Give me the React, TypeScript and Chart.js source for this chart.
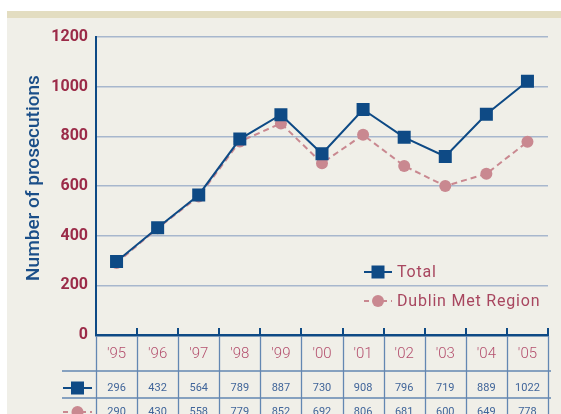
import React, { useEffect, useRef } from "react";
import { Chart, registerables } from "chart.js";

Chart.register(...registerables);

const years = ["'95", "'96", "'97", "'98", "'99", "'00", "'01", "'02", "'03", "'04", "'05"];
const totalValues = [296, 432, 564, 789, 887, 730, 908, 796, 719, 889, 1022];
const dublinValues = [290, 430, 558, 779, 852, 692, 806, 681, 600, 649, 778];
const seriesLabels = ["Total", "Dublin Met Region"];
const yTitle = "Number of prosecutions";
const yMin = 0;
const yMax = 1200;
const yStep = 200;

const BLUE = "#0e4a85";
const PINK = "#c98890";
const MAROON = "#9b2b48";
const LABEL_PINK = "#a8465f";
const GRID = "#a7b7cd";
const TABLE_LINE = "#6387b2";
const TABLE_TEXT = "#40659a";
const FONT = "Roboto, 'DejaVu Sans', sans-serif";

function drawSquare(ctx: CanvasRenderingContext2D, x: number, y: number, s: number) {
  ctx.fillStyle = BLUE;
  ctx.fillRect(x - s / 2, y - s / 2, s, s);
}
function drawCircle(ctx: CanvasRenderingContext2D, x: number, y: number, r: number) {
  ctx.fillStyle = PINK;
  ctx.beginPath();
  ctx.arc(x, y, r, 0, Math.PI * 2);
  ctx.fill();
}
function seriesIcon(ctx: CanvasRenderingContext2D, idx: number, x0: number, x1: number, y: number) {
  ctx.save();
  ctx.lineWidth = 2;
  if (idx === 0) {
    ctx.strokeStyle = BLUE;
    ctx.setLineDash([]);
  } else {
    ctx.strokeStyle = PINK;
    ctx.setLineDash([5, 4]);
  }
  ctx.beginPath();
  ctx.moveTo(x0, y);
  ctx.lineTo(x1, y);
  ctx.stroke();
  ctx.setLineDash([]);
  const cx = (x0 + x1) / 2;
  if (idx === 0) drawSquare(ctx, cx, y, 13);
  else drawCircle(ctx, cx, y, 6);
  ctx.restore();
}

const decorPlugin = {
  id: "decor",
  beforeDraw(chart: any) {
    const ctx: CanvasRenderingContext2D = chart.ctx;
    const w = chart.width;
    const h = chart.height;
    ctx.save();
    ctx.fillStyle = "#ffffff";
    ctx.fillRect(0, 0, w, h);
    ctx.fillStyle = "#f0efe8";
    ctx.fillRect(7, 11, w - 7, h - 11);
    ctx.fillStyle = "#e3ddc1";
    ctx.fillRect(7, 11, w - 7, 7);
    ctx.restore();
  },
  afterDraw(chart: any) {
    const ctx: CanvasRenderingContext2D = chart.ctx;
    const xs = chart.scales.x;
    const area = chart.chartArea;
    const n = years.length;
    const colW = (area.right - area.left) / n;
    const axisY = area.bottom;
    ctx.save();

    // tick marks pointing up at column boundaries
    ctx.strokeStyle = BLUE;
    ctx.lineWidth = 2;
    for (let k = 1; k <= n; k++) {
      const bx = Math.round(area.left + k * colW);
      ctx.beginPath();
      ctx.moveTo(bx, axisY);
      ctx.lineTo(bx, axisY - 7);
      ctx.stroke();
    }

    // table lines
    ctx.strokeStyle = TABLE_LINE;
    ctx.lineWidth = 1.3;
    for (let k = 0; k <= n; k++) {
      const bx = Math.round(area.left + k * colW) + 0.5;
      ctx.beginPath();
      ctx.moveTo(bx, axisY + 1);
      ctx.lineTo(bx, chart.height);
      ctx.stroke();
    }
    const rowLines = [371, 398];
    rowLines.forEach((ry) => {
      ctx.beginPath();
      ctx.moveTo(62, ry);
      ctx.lineTo(551, ry);
      ctx.stroke();
    });

    // table values
    const rows = [totalValues, dublinValues];
    const rowY = [388, 412];
    ctx.font = `11px ${FONT}`;
    ctx.fillStyle = TABLE_TEXT;
    ctx.textAlign = "center";
    ctx.textBaseline = "middle";
    rows.forEach((vals, r) => {
      vals.forEach((v, i) => {
        ctx.fillText(String(v), xs.getPixelForValue(i), rowY[r]);
      });
    });
    // row icons
    seriesIcon(ctx, 0, 63, 92, rowY[0]);
    seriesIcon(ctx, 1, 63, 92, rowY[1]);

    // legend inside plot
    const legY = [272, 301];
    seriesLabels.forEach((lab, i) => {
      seriesIcon(ctx, i, 364, 392, legY[i]);
      ctx.save();
      ctx.font = `16px ${FONT}`;
      (ctx as any).letterSpacing = "0.8px";
      ctx.fillStyle = LABEL_PINK;
      ctx.textAlign = "left";
      ctx.textBaseline = "middle";
      ctx.fillText(lab, 397, legY[i] + 1);
      ctx.restore();
    });

    // y title
    ctx.translate(34, 178);
    ctx.rotate(-Math.PI / 2);
    ctx.font = `500 19px ${FONT}`;
    ctx.fillStyle = "#1a4e88";
    ctx.textAlign = "center";
    ctx.textBaseline = "middle";
    ctx.fillText(yTitle, 0, 0);
    ctx.restore();
  },
};

export default function App() {
  const canvasRef = useRef<HTMLCanvasElement | null>(null);
  useEffect(() => {
    if (!canvasRef.current) return;
    const chart = new Chart(canvasRef.current, {
      type: "line",
      data: {
        labels: years,
        datasets: [
          {
            label: seriesLabels[0],
            data: totalValues,
            borderColor: BLUE,
            backgroundColor: BLUE,
            borderWidth: 2,
            pointStyle: "rect",
            pointRadius: 9.2,
            pointBorderWidth: 0,
            pointBackgroundColor: BLUE,
            tension: 0,
          },
          {
            label: seriesLabels[1],
            data: dublinValues,
            borderColor: PINK,
            backgroundColor: PINK,
            borderWidth: 2,
            borderDash: [6, 4],
            pointStyle: "circle",
            pointRadius: 6,
            pointBorderWidth: 0,
            pointBackgroundColor: PINK,
            tension: 0,
          },
        ],
      },
      options: {
        animation: false,
        responsive: false,
        maintainAspectRatio: false,
        layout: { padding: { left: 24, right: 13, top: 37, bottom: 0 } },
        plugins: {
          legend: { display: false },
          tooltip: { enabled: false },
        },
        scales: {
          x: {
            type: "category",
            offset: true,
            grid: { display: false, drawTicks: false },
            border: { display: true, color: BLUE, width: 2.5 },
            ticks: {
              color: "#b4506e",
              font: { family: FONT, size: 15, weight: "300" },
              padding: 10,
              maxRotation: 0,
              autoSkip: false,
            },
            afterFit: (s: any) => {
              s.height = 79;
            },
          },
          y: {
            min: yMin,
            max: yMax,
            ticks: {
              stepSize: yStep,
              color: MAROON,
              font: { family: FONT, size: 16, weight: "bold" },
              padding: 8,
              callback: (v: any) => String(v),
            },
            grid: { color: GRID, lineWidth: 1.5, drawTicks: false },
            border: { display: true, color: BLUE, width: 2 },
            afterFit: (s: any) => {
              s.width = 72;
            },
          },
        },
      },
      plugins: [decorPlugin],
    } as any);
    return () => chart.destroy();
  }, []);
  return (
    <div style={{ position: "fixed", left: 0, top: 0, width: 561, height: 414, background: "#fff" }}>
      <canvas ref={canvasRef} width={561} height={414} style={{ display: "block", width: 561, height: 414 }} />
    </div>
  );
}
